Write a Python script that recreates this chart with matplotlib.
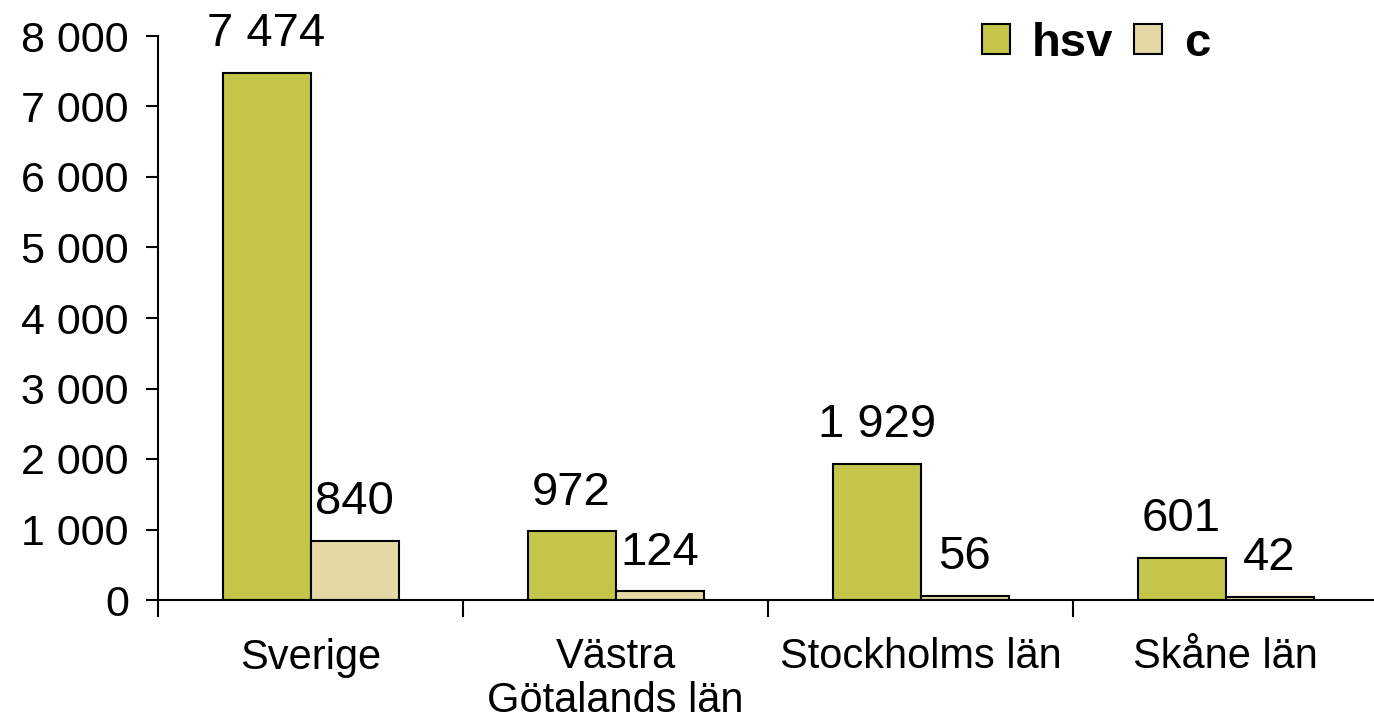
import matplotlib.pyplot as plt
import numpy as np

plt.rcParams['font.family'] = ['Liberation Sans', 'DejaVu Sans']

categories = ['Sverige', 'Västra\nGötalands län', 'Stockholms län', 'Skåne län']
hsv = [7474, 972, 1929, 601]
c = [840, 124, 56, 42]
yticks = [0, 1000, 2000, 3000, 4000, 5000, 6000, 7000, 8000]

green = '#C4C64A'
beige = '#E3D8A6'


def fmt(v):
    return '{:,}'.format(v).replace(',', ' ')


fig = plt.figure(figsize=(13.74, 7.2), dpi=100)
ax = fig.add_axes([158 / 1374, 120 / 720, 1 - 158 / 1374 + 0.003, 564 / 720])

x = np.arange(len(categories))
w = 88 / 305
b1 = ax.bar(x + 0.5 - w / 2, hsv, w, color=green, edgecolor='black', linewidth=1.5, label='hsv')
b2 = ax.bar(x + 0.5 + w / 2, c, w, color=beige, edgecolor='black', linewidth=1.5, label='c')

for bars, vals in [(b1, hsv), (b2, c)]:
    for rect, v in zip(bars, vals):
        ax.annotate(fmt(v), (rect.get_x() + rect.get_width() / 2, v), xytext=(0, 12),
                    textcoords='offset points', ha='center', va='bottom', fontsize=34)

ax.set_xlim(0, len(categories))
ax.set_ylim(0, 8000)
ax.set_yticks(yticks)
ax.set_yticklabels([fmt(v) for v in yticks], fontsize=31)
ax.tick_params(axis='y', length=9, width=1.5, pad=12)

# boundary ticks below, category labels as minor ticks
ax.set_xticks(np.arange(len(categories) + 1))
ax.set_xticklabels([])
ax.tick_params(axis='x', which='major', length=12, width=1.5, direction='out')
ax.set_xticks(x + 0.5, minor=True)
ax.set_xticklabels(categories, minor=True, fontsize=30, linespacing=1.12, va='top')
ax.tick_params(axis='x', which='minor', length=0, pad=27)

for s in ['top', 'right']:
    ax.spines[s].set_visible(False)
ax.spines['left'].set_linewidth(1.5)
ax.spines['bottom'].set_linewidth(1.5)

leg = ax.legend(loc='upper right', bbox_to_anchor=(0.897, 1.1), ncol=2, frameon=False,
                prop={'weight': 'bold', 'size': 34}, handlelength=0.6, handleheight=0.6,
                handletextpad=0.45, columnspacing=0.45)

fig.savefig('out.png', dpi=100)
